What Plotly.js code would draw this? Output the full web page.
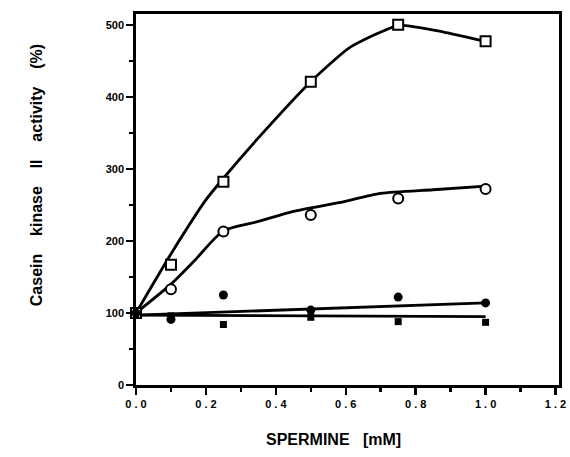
<!DOCTYPE html>
<html><head><meta charset="utf-8">
<script src="https://cdn.plot.ly/plotly-3.0.1.min.js"></script>
<style>html,body{margin:0;padding:0;background:#fff;}#chart{width:570px;height:457px;}</style>
</head><body><div id="chart"></div>
<script>
// Measured points
const xPts = [0, 0.1, 0.25, 0.5, 0.75, 1.0];
const openSquare = [100, 167, 282, 421, 500, 477];
const openCircle = [100, 133, 213, 236, 259, 272];
const filledCircle = [100, 91, 125, 104, 122, 114];
const filledSquare = [100, 96, 84, 94, 88, 87];

// Fitted curves
const sqCurveX = [0, 0.1, 0.2, 0.25, 0.35, 0.5, 0.61, 0.75, 0.88, 1.0];
const sqCurveY = [100, 182, 257, 287, 343, 421, 468, 499, 490, 477];
const ciCurveX = [0, 0.1, 0.17, 0.25, 0.35, 0.45, 0.58, 0.7, 0.85, 1.0];
const ciCurveY = [100, 140, 174, 214, 227, 241, 253, 266, 271, 276];
const fcLineX = [0, 1.0];
const fcLineY = [97, 114];
const fsLineX = [0, 1.0];
const fsLineY = [97, 95];

const xTicks = [0, 0.2, 0.4, 0.6, 0.8, 1.0, 1.2];
const xTickText = ['0 . 0', '0 . 2', '0 . 4', '0 . 6', '0 . 8', '1 . 0', '1 . 2'];
const yTicks = [0, 100, 200, 300, 400, 500];

const lw = 2.8;
const traces = [
  {x: sqCurveX, y: sqCurveY, mode: 'lines', line: {color: '#000', width: lw, shape: 'spline', smoothing: 0.5}, hoverinfo: 'skip'},
  {x: ciCurveX, y: ciCurveY, mode: 'lines', line: {color: '#000', width: lw, shape: 'spline', smoothing: 0.7}, hoverinfo: 'skip'},
  {x: fcLineX, y: fcLineY, mode: 'lines', line: {color: '#000', width: lw}, hoverinfo: 'skip'},
  {x: fsLineX, y: fsLineY, mode: 'lines', line: {color: '#000', width: lw}, hoverinfo: 'skip'},
  {x: xPts, y: filledSquare, mode: 'markers', marker: {symbol: 'square', size: 7, color: '#000'}, cliponaxis: false},
  {x: xPts, y: openCircle, mode: 'markers', marker: {symbol: 'circle', size: 10, color: '#fff', line: {color: '#000', width: 2}}, cliponaxis: false},
  {x: xPts, y: openSquare, mode: 'markers', marker: {symbol: 'square', size: 10, color: '#fff', line: {color: '#000', width: 2}}, cliponaxis: false},
  {x: xPts, y: filledCircle, mode: 'markers', marker: {symbol: 'circle', size: 9, color: '#000'}, cliponaxis: false}
];

const tickFont = {family: 'Liberation Sans, Arial, sans-serif', size: 11, color: '#000', weight: 'bold'};
const layout = {
  width: 570, height: 457,
  margin: {l: 136, r: 11, t: 14, b: 72},
  paper_bgcolor: '#fff', plot_bgcolor: '#fff',
  showlegend: false,
  xaxis: {
    range: [0, 1.21], tickvals: xTicks, ticktext: xTickText,
    ticks: 'outside', ticklen: 7, tickwidth: 2.5, tickcolor: '#000',
    minor: {dtick: 0.1, tick0: 0, ticks: 'outside', ticklen: 4, tickwidth: 2.5, tickcolor: '#000'},
    showline: true, linecolor: '#000', linewidth: 2.8, mirror: true,
    showgrid: false, zeroline: false, tickfont: tickFont
  },
  yaxis: {
    range: [0, 515], tickvals: yTicks,
    ticks: 'outside', ticklen: 7, tickwidth: 2.5, tickcolor: '#000',
    minor: {dtick: 50, tick0: 0, ticks: 'outside', ticklen: 4, tickwidth: 2.5, tickcolor: '#000'},
    showline: true, linecolor: '#000', linewidth: 2.8, mirror: true,
    showgrid: false, zeroline: false, tickfont: tickFont
  },
  annotations: [
    {text: 'SPERMINE\u00A0\u00A0\u00A0[mM]', xref: 'paper', yref: 'paper', x: 0.468, y: -0.148,
     showarrow: false, xanchor: 'center', yanchor: 'middle',
     font: {family: 'Liberation Sans, Arial, sans-serif', size: 16, color: '#000', weight: 'bold'}},
    {text: 'Casein\u00A0\u00A0\u00A0\u00A0kinase\u00A0\u00A0\u00A0\u00A0II\u00A0\u00A0\u00A0\u00A0activity\u00A0\u00A0\u00A0\u00A0(%)', xref: 'paper', yref: 'paper',
     x: -0.236, y: 0.566, textangle: -90,
     showarrow: false, xanchor: 'center', yanchor: 'middle',
     font: {family: 'Liberation Sans, Arial, sans-serif', size: 16, color: '#000', weight: 'bold'}}
  ]
};
Plotly.newPlot('chart', traces, layout, {displayModeBar: false, staticPlot: true});
</script></body></html>
